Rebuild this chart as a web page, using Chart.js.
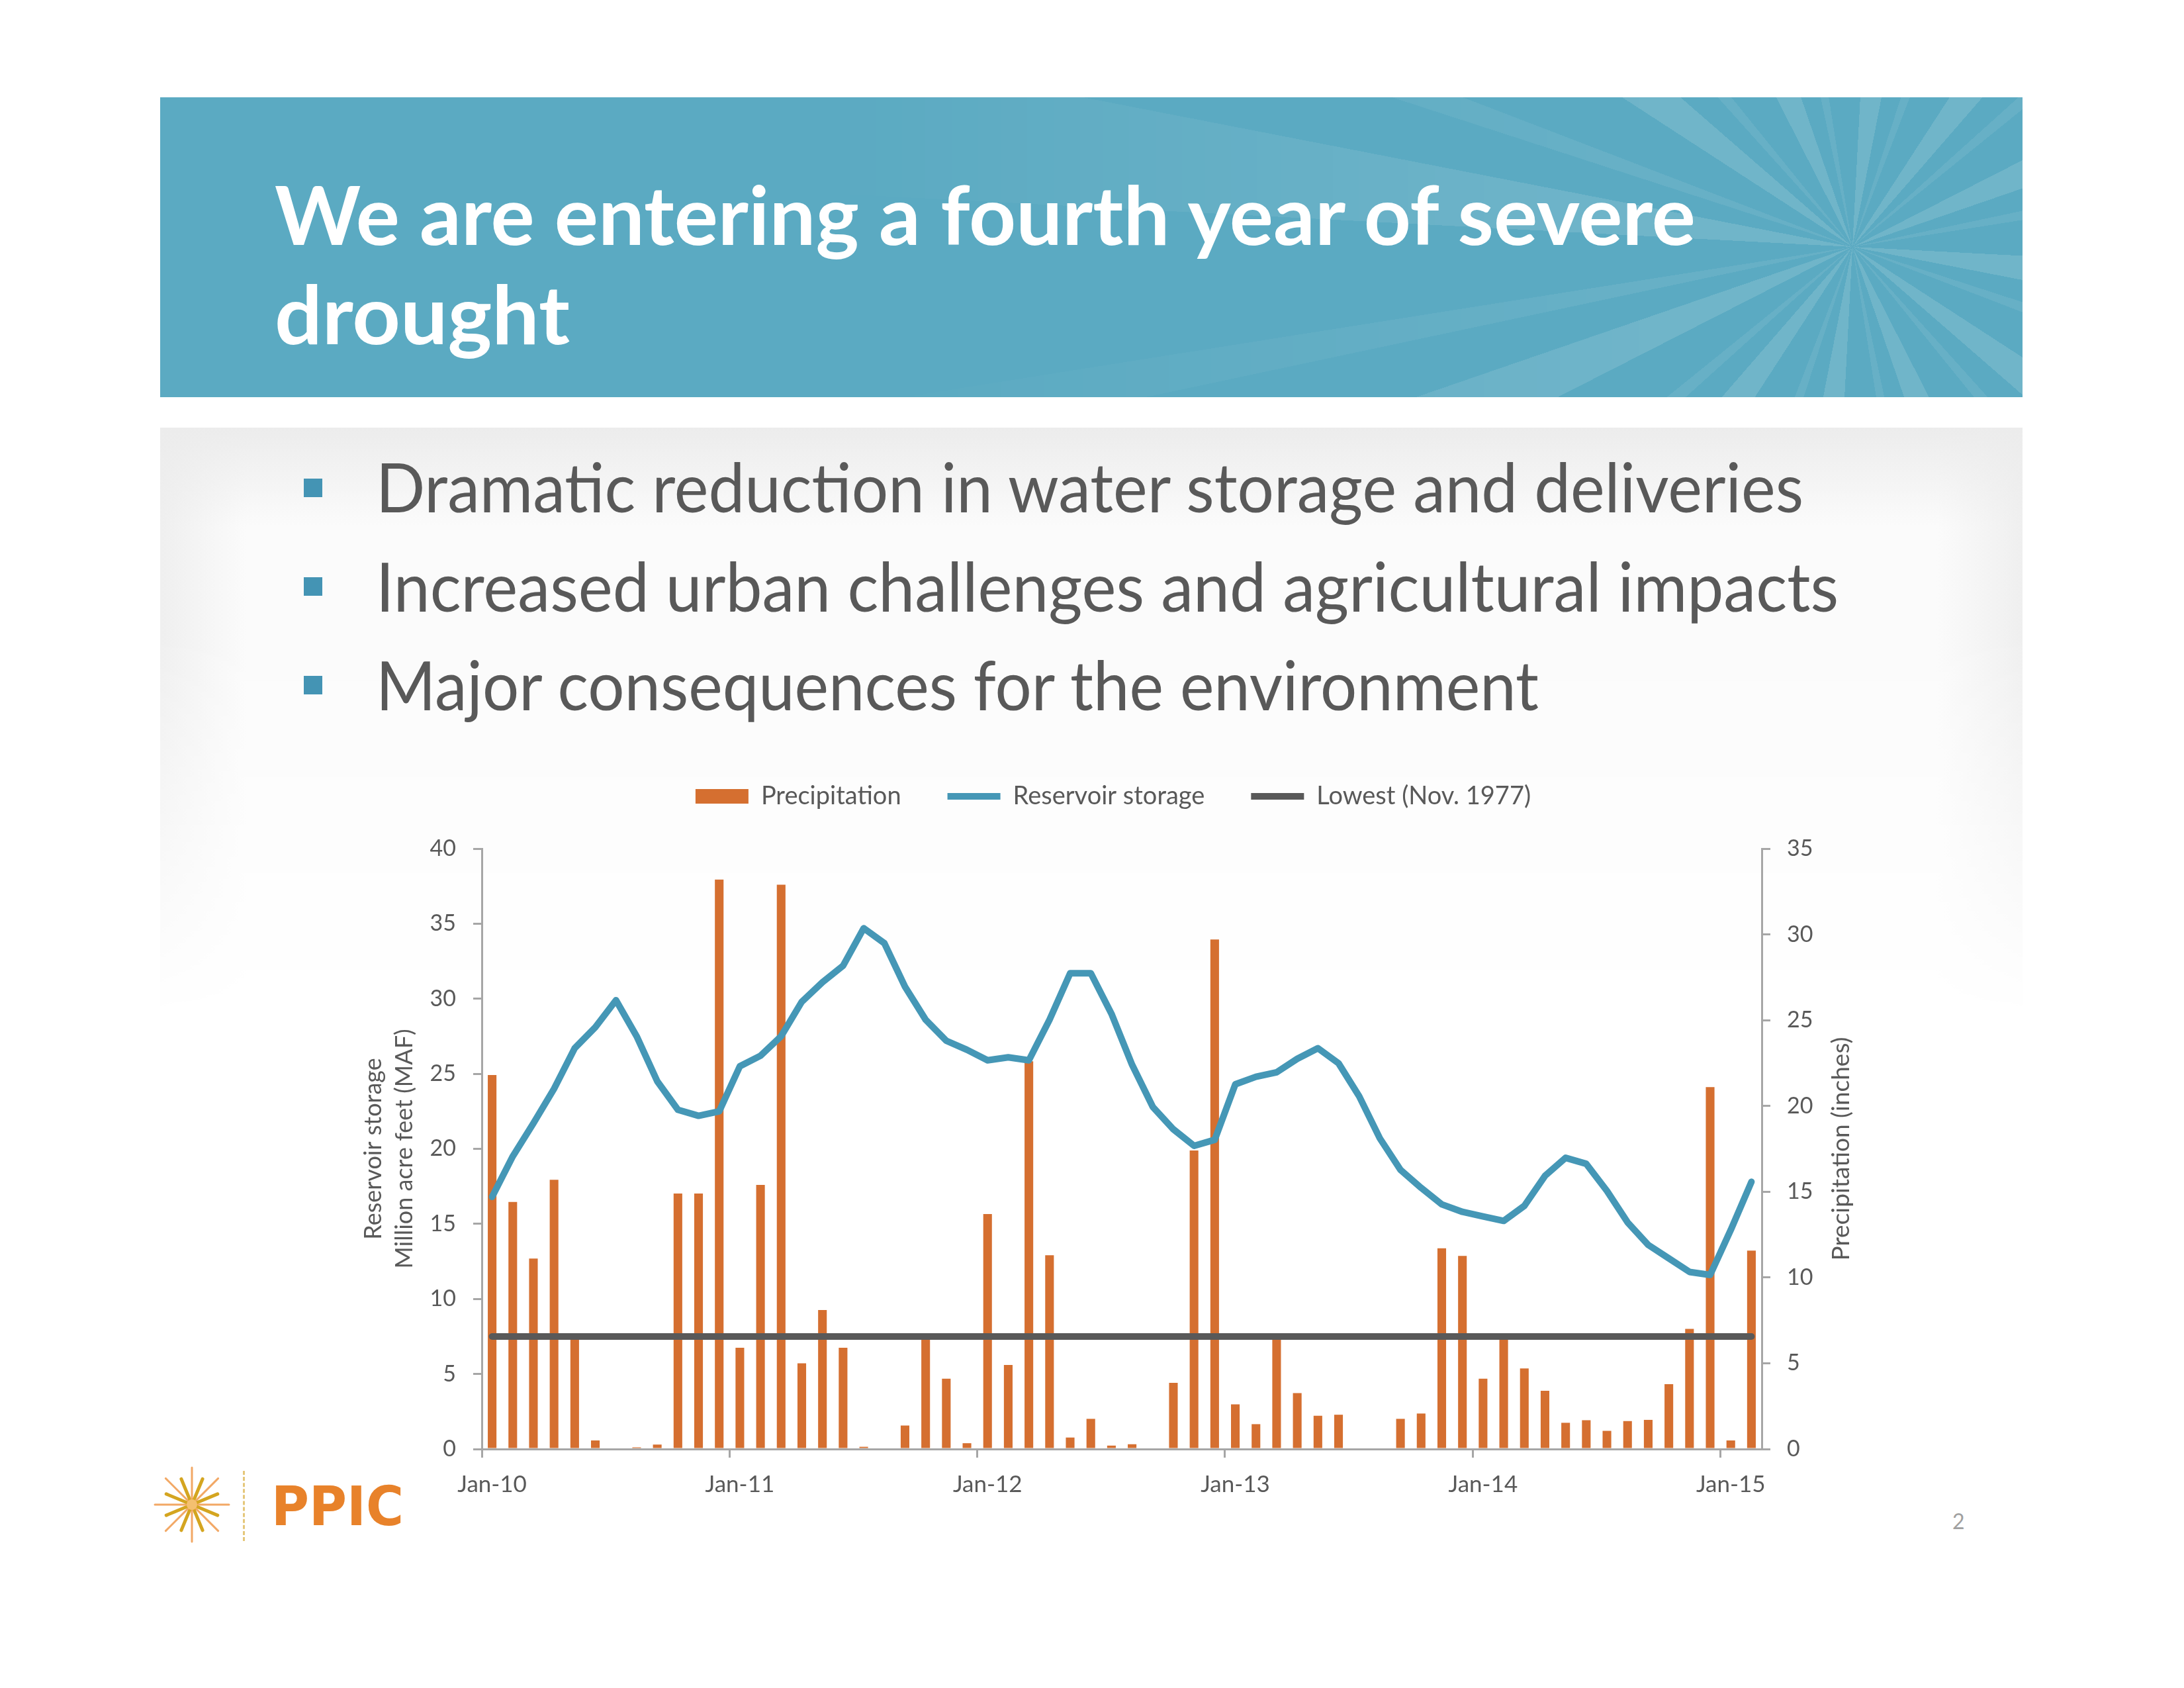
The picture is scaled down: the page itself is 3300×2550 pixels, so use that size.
<!DOCTYPE html>
<html>
<head>
<meta charset="utf-8">
<script src="https://cdn.jsdelivr.net/npm/chart.js@4.4.1/dist/chart.umd.min.js"></script>
<style>
  html, body { margin: 0; padding: 0; background: #fff; }
  body { width: 3300px; height: 2550px; position: relative; overflow: hidden; font-family: Lato, "Open Sans", sans-serif; }
  .abs { position: absolute; white-space: nowrap; transform-origin: 0 0; }
  #banner { position: absolute; left: 242px; top: 147px; width: 2814px; height: 453px; background: #5BAAC2; overflow: hidden; }
  #rays { position: absolute; left: 0; top: 0; width: 100%; height: 100%;
    background: repeating-conic-gradient(from 3deg at 2557px 226px,
      rgba(255,255,255,0.13) 0deg 8deg, rgba(255,255,255,0) 8deg 15deg,
      rgba(255,255,255,0.08) 15deg 18deg, rgba(255,255,255,0) 18deg 30deg);
    -webkit-mask-image: linear-gradient(to right, rgba(0,0,0,0) 35%, rgba(0,0,0,1) 80%);
    mask-image: linear-gradient(to right, rgba(0,0,0,0) 35%, rgba(0,0,0,1) 80%); }
  .title { color: #fff; font-weight: 700; font-size: 123px; }
  #panel { position: absolute; left: 242px; top: 646px; width: 2814px; height: 890px;
    background:
      linear-gradient(to bottom, #ececec 0, rgba(255,255,255,0) 150px),
      linear-gradient(to right, #efefef 0, rgba(255,255,255,0) 130px),
      linear-gradient(to left, #efefef 0, rgba(255,255,255,0) 130px),
      #fbfbfb;
    -webkit-mask-image: linear-gradient(to bottom, #000 35%, rgba(0,0,0,0) 100%);
    mask-image: linear-gradient(to bottom, #000 35%, rgba(0,0,0,0) 100%); }
  .bullet { position: absolute; left: 459px; width: 28px; height: 28px; background: #4494B4; }
  .point { color: #595959; font-size: 102px; }
  #ppic { color: #E8822A; font-family: "DejaVu Sans", sans-serif; font-weight: 700; font-size: 82px; }
  #dash { position: absolute; left: 367px; top: 2222px; height: 106px; border-left: 3px dashed #E5C77A; }
  #pageno { color: #A0A0A0; font-size: 32px; }
  #chartBox { position: absolute; left: 492px; top: 1114px; }
</style>
</head>
<body>
<div id="banner"><div id="rays"></div></div>
<div class="abs title" data-x="415" data-base="370" data-w="2147">We are entering a fourth year of severe</div>
<div class="abs title" data-x="415" data-base="520" data-w="446">drought</div>

<div id="panel"></div>
<div class="bullet" style="top:723px"></div>
<div class="bullet" style="top:872px"></div>
<div class="bullet" style="top:1021px"></div>
<div class="abs point" data-x="568" data-base="774" data-w="2157">Dramatic reduction in water storage and deliveries</div>
<div class="abs point" data-x="568" data-base="924" data-w="2210">Increased urban challenges and agricultural impacts</div>
<div class="abs point" data-x="568" data-base="1073" data-w="1757">Major consequences for the environment</div>

<div id="chartBox"><canvas id="myChart" width="2380" height="1194"></canvas></div>

<svg id="sun" width="120" height="120" style="position:absolute;left:230px;top:2213px"></svg>
<div id="dash"></div>
<div class="abs" id="ppic" data-x="410" data-base="2304" data-w="200">PPIC</div>
<div class="abs" id="pageno" data-x="2950" data-base="2310">2</div>

<script>
// months Jan-10 .. Feb-15
var months = ['Jan','Feb','Mar','Apr','May','Jun','Jul','Aug','Sep','Oct','Nov','Dec'];
var years = ['10','11','12','13','14','15'];
var tickLabels = ['Jan-10','Jan-11','Jan-12','Jan-13','Jan-14','Jan-15'];

// precipitation, inches (right axis)
var precipitation = [
  21.8, 14.4, 11.1, 15.7, 6.5, 0.5, 0, 0.1, 0.26, 14.9, 14.9, 33.2,
  5.9, 15.4, 32.9, 5.0, 8.1, 5.9, 0.13, 0, 1.37, 6.5, 4.1, 0.34,
  13.7, 4.9, 22.6, 11.3, 0.67, 1.76, 0.2, 0.28, 0, 3.86, 17.4, 29.7,
  2.6, 1.45, 6.5, 3.26, 1.94, 2.0, 0, 0, 1.76, 2.07, 11.7, 11.26,
  4.1, 6.5, 4.7, 3.4, 1.53, 1.68, 1.06, 1.63, 1.7, 3.78, 7.0, 21.1,
  0.5, 11.57
];

// reservoir storage, MAF (left axis)
var storage = [
  16.8, 19.5, 21.7, 24.0, 26.7, 28.1, 29.9, 27.5, 24.5, 22.6, 22.2, 22.5,
  25.5, 26.2, 27.5, 29.8, 31.1, 32.2, 34.7, 33.7, 30.8, 28.6, 27.2, 26.6,
  25.9, 26.1, 25.9, 28.6, 31.7, 31.7, 29.0, 25.6, 22.8, 21.3, 20.2, 20.6,
  24.3, 24.8, 25.1, 26.0, 26.7, 25.7, 23.5, 20.7, 18.6, 17.4, 16.3, 15.8,
  15.5, 15.2, 16.2, 18.2, 19.4, 19.0, 17.2, 15.1, 13.6, 12.7, 11.8, 11.6,
  14.6, 17.8
];

// lowest storage (Nov. 1977), MAF
var lowest = [
  7.5, 7.5, 7.5, 7.5, 7.5, 7.5, 7.5, 7.5, 7.5, 7.5, 7.5, 7.5,
  7.5, 7.5, 7.5, 7.5, 7.5, 7.5, 7.5, 7.5, 7.5, 7.5, 7.5, 7.5,
  7.5, 7.5, 7.5, 7.5, 7.5, 7.5, 7.5, 7.5, 7.5, 7.5, 7.5, 7.5,
  7.5, 7.5, 7.5, 7.5, 7.5, 7.5, 7.5, 7.5, 7.5, 7.5, 7.5, 7.5,
  7.5, 7.5, 7.5, 7.5, 7.5, 7.5, 7.5, 7.5, 7.5, 7.5, 7.5, 7.5,
  7.5, 7.5
];

var monthLabels = [];
for (var i = 0; i < precipitation.length; i++) {
    monthLabels.push(months[i % 12] + '-' + years[Math.floor(i / 12)]);
}

var gray = '#595959';
var axisGray = '#A6A6A6';

Chart.defaults.font.family = 'Lato, "Open Sans", sans-serif';
Chart.defaults.color = gray;

// right axis title reads bottom to top, so it is drawn here
var rightTitle = {
    id: 'rightTitle',
    afterDraw: function(chart) {
        var s = chart.scales.y2, c = chart.ctx;
        c.save();
        c.translate(s.right - 90, (s.top + s.bottom) / 2);
        c.rotate(-Math.PI / 2);
        c.font = '37px Lato, "Open Sans", sans-serif';
        c.fillStyle = gray;
        c.textAlign = 'center';
        c.textBaseline = 'middle';
        c.fillText('Precipitation (inches)', 0, 0);
        c.restore();
    }
};

function yGrid() {
    return { drawOnChartArea: false, drawTicks: true, tickLength: 13, color: axisGray, lineWidth: 3 };
}

const ctx = document.getElementById('myChart');
chart = new Chart(ctx, {
    type: 'bar',
    data: {
        labels: monthLabels,
        datasets: [{
            type: 'bar',
            label: 'Precipitation',
            data: precipitation,
            yAxisID: 'y2',
            backgroundColor: '#D56F30',
            borderWidth: 0,
            barPercentage: 0.42,
            categoryPercentage: 1,
            pointStyle: 'rect',
            order: 3
        }, {
            type: 'line',
            label: 'Reservoir storage',
            data: storage,
            yAxisID: 'y',
            borderColor: '#4597B6',
            backgroundColor: '#4597B6',
            borderWidth: 10,
            borderCapStyle: 'round',
            borderJoinStyle: 'round',
            pointRadius: 0,
            pointStyle: 'line',
            tension: 0,
            order: 1
        }, {
            type: 'line',
            label: 'Lowest (Nov. 1977)',
            data: lowest,
            yAxisID: 'y',
            borderColor: gray,
            backgroundColor: gray,
            borderWidth: 10,
            borderCapStyle: 'round',
            pointRadius: 0,
            pointStyle: 'line',
            order: 2
        }]
    },
    options: {
        responsive: false,
        devicePixelRatio: 1,
        animation: false,
        layout: { padding: 0 },
        plugins: {
            tooltip: { enabled: false },
            legend: {
                position: 'top',
                labels: {
                    usePointStyle: true,
                    pointStyleWidth: 80,
                    boxHeight: 22,
                    padding: 70,
                    color: gray,
                    font: { size: 38 },
                    sort: function(a, b) { return a.datasetIndex - b.datasetIndex; }
                }
            },
            // empty spacer between legend and plot
            subtitle: { display: true, text: '', weight: 500, padding: 0, font: { size: 50, lineHeight: 1 } }
        },
        scales: {
            x: {
                offset: true,
                grid: {
                    offset: true,
                    drawOnChartArea: false,
                    drawTicks: true,
                    tickLength: 13,
                    lineWidth: 3,
                    color: function(c) { return c.index % 12 === 0 ? axisGray : 'rgba(0,0,0,0)'; }
                },
                border: { display: true, color: axisGray, width: 3 },
                ticks: {
                    autoSkip: false,
                    maxRotation: 0,
                    minRotation: 0,
                    padding: 20,
                    color: gray,
                    font: { size: 35 },
                    callback: function(v) {
                        var l = this.getLabelForValue(v);
                        return tickLabels.indexOf(l) >= 0 ? l : '';
                    }
                },
                afterFit: function(s) { s.height = 119; }
            },
            y: {
                position: 'left',
                min: 0,
                max: 40,
                ticks: { stepSize: 5, padding: 26, color: gray, font: { size: 34 } },
                grid: yGrid(),
                border: { display: true, color: axisGray, width: 3 },
                title: {
                    display: true,
                    text: ['Reservoir storage', 'Million acre feet (MAF)'],
                    color: gray,
                    font: { size: 36, lineHeight: 1.3 },
                    padding: { top: 49, bottom: 0 }
                },
                afterFit: function(s) { s.width = 236; }
            },
            y2: {
                position: 'right',
                min: 0,
                max: 35,
                ticks: { stepSize: 5, padding: 25, color: gray, font: { size: 34 } },
                grid: yGrid(),
                border: { display: true, color: axisGray, width: 3 },
                afterFit: function(s) { s.width = 210; }
            }
        }
    },
    plugins: [rightTitle]
});

// logo sunburst
var sun = document.getElementById('sun');
var svgNS = 'http://www.w3.org/2000/svg';
for (var k = 0; k < 16; k++) {
    var a = k * Math.PI / 8;
    var long = k % 2 === 0;
    var len = long ? 56 : 42;
    var ln = document.createElementNS(svgNS, 'line');
    ln.setAttribute('x1', 60 + Math.cos(a) * 6);
    ln.setAttribute('y1', 60 + Math.sin(a) * 6);
    ln.setAttribute('x2', 60 + Math.cos(a) * len);
    ln.setAttribute('y2', 60 + Math.sin(a) * len);
    ln.setAttribute('stroke', long ? '#F2A865' : '#D4A520');
    ln.setAttribute('stroke-width', long ? 3 : 5);
    ln.setAttribute('stroke-linecap', 'round');
    sun.appendChild(ln);
}
var dot = document.createElementNS(svgNS, 'circle');
dot.setAttribute('cx', 60); dot.setAttribute('cy', 60); dot.setAttribute('r', 8);
dot.setAttribute('fill', '#F4C070');
sun.appendChild(dot);

// put page texts on their baselines and widths
function placeText() {
    var els = document.querySelectorAll('[data-base]');
    els.forEach(function(el) {
        el.style.left = el.getAttribute('data-x') + 'px';
        el.style.top = '0px';
        el.style.transform = 'none';
        var mark = document.createElement('span');
        mark.style.cssText = 'display:inline-block;width:0;height:0;vertical-align:baseline';
        el.appendChild(mark);
        var r = el.getBoundingClientRect();
        var m = mark.getBoundingClientRect();
        el.style.top = (+el.getAttribute('data-base') - (m.top - r.top)) + 'px';
        var w = el.getAttribute('data-w');
        if (w) el.style.transform = 'scaleX(' + (w / r.width) + ')';
        el.removeChild(mark);
    });
}
placeText();
if (document.fonts && document.fonts.ready) {
    document.fonts.ready.then(function() { placeText(); chart.update(); });
}
</script>
</body>
</html>
